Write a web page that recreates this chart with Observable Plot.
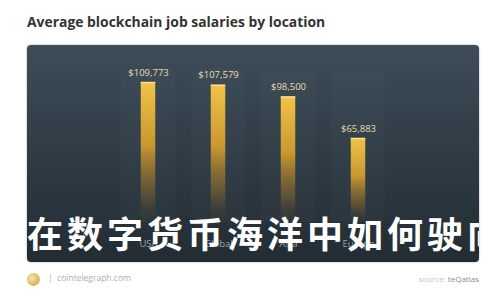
<!DOCTYPE html>
<html>
<head>
<meta charset="utf-8">
<script src="https://cdn.jsdelivr.net/npm/d3@7"></script>
<script src="https://cdn.jsdelivr.net/npm/@observablehq/plot@0.6"></script>
<style>
  html, body { margin: 0; padding: 0; background: #fff; }
  #wrap { position: relative; width: 500px; height: 300px; overflow: hidden; font-family: "Open Sans", sans-serif; }
  #title { position: absolute; left: 27px; top: 12px; font-size: 13.9px; font-weight: 700; color: #333; white-space: nowrap; }
  #panel { position: absolute; left: 27px; top: 45px; width: 452px; height: 217px; border-radius: 4px; overflow: hidden;
           background: linear-gradient(180deg, #3d4c57 0%, #2f3c46 50%, #222c33 100%); box-shadow: 0 0 2px rgba(0,0,0,0.4); }
  #panel svg { display: block; background: transparent; }
  #overlay { position: absolute; left: 0px; top: 166px; width: 452px; overflow: hidden; white-space: nowrap;
             font-family: "Noto Sans CJK SC", sans-serif; font-weight: 700; font-size: 36px; color: #fff; letter-spacing: 4px; line-height: 42px; }
  #logo { position: absolute; left: 27px; top: 273px; width: 13px; height: 13px; border-radius: 50%;
          background: radial-gradient(circle at 40% 40%, #f6e7b0, #d9b95a 60%, #c9c9c9); }
  #site { position: absolute; left: 48px; top: 272px; font-size: 8.5px; color: #b0b0b0; white-space: nowrap; }
  #source { position: absolute; right: 21px; top: 273px; font-size: 8px; color: #c4c4c4; white-space: nowrap; }
  #source b { font-weight: 400; color: #8a8a8a; }
</style>
</head>
<body>
<div id="wrap">
  <div id="title">Average blockchain job salaries by location</div>
  <div id="panel">
    <div id="chart"></div>
    <div id="overlay">在数字货币海洋中如何驶向成功</div>
  </div>
  <div id="logo"></div>
  <div id="site">|&nbsp;&nbsp;cointelegraph.com</div>
  <div id="source">source: <b>teQatlas</b></div>
</div>
<script>
const locations = ["USA", "Global", "Asia", "Europe"];
const salaries = [109773, 107579, 98500, 65883];
const valueLabels = ["$109,773", "$107,579", "$98,500", "$65,883"];

const data = locations.map((loc, i) => ({loc, salary: salaries[i], label: valueLabels[i]}));

const chart = Plot.plot({
  width: 452,
  height: 217,
  marginLeft: 85,
  marginRight: 85,
  marginTop: 24,
  marginBottom: 40,
  style: {background: "transparent", fontFamily: "Open Sans, sans-serif"},
  x: {domain: locations, padding: 0, label: null},
  y: {domain: [0, 120000], axis: null},
  marks: [
    Plot.barY(data, {x: "loc", y1: 0, y2: 120000, insetLeft: 8, insetRight: 8, fill: "#ffffff", fillOpacity: 0.02}),
    Plot.barY(data, {x: "loc", y: "salary", insetLeft: 27.75, insetRight: 27.75, fill: "url(#goldGrad)"}),
    Plot.tickY(data, {x: "loc", y: "salary", insetLeft: 27.75, insetRight: 27.75, stroke: "#fbe08a", strokeWidth: 1.5}),
    Plot.text(data, {x: "loc", y: "salary", text: "label", dy: -10, fill: "#e8dcae", fontSize: 9.5}),
    Plot.axisX({tickSize: 0, tickPadding: 18, fill: "#9aa6ae", fontSize: 9.5, label: null})
  ]
});

const defs = d3.select(chart).insert("defs", ":first-child");
const g = defs.append("linearGradient").attr("id", "goldGrad").attr("x1", 0).attr("y1", 0).attr("x2", 0).attr("y2", 1);
g.append("stop").attr("offset", "0%").attr("stop-color", "#f2c24a");
g.append("stop").attr("offset", "45%").attr("stop-color", "#c9982f");
g.append("stop").attr("offset", "80%").attr("stop-color", "#7a6130").attr("stop-opacity", 0.6);
g.append("stop").attr("offset", "100%").attr("stop-color", "#3a3a30").attr("stop-opacity", 0.15);

document.getElementById("chart").append(chart);
</script>
</body>
</html>
